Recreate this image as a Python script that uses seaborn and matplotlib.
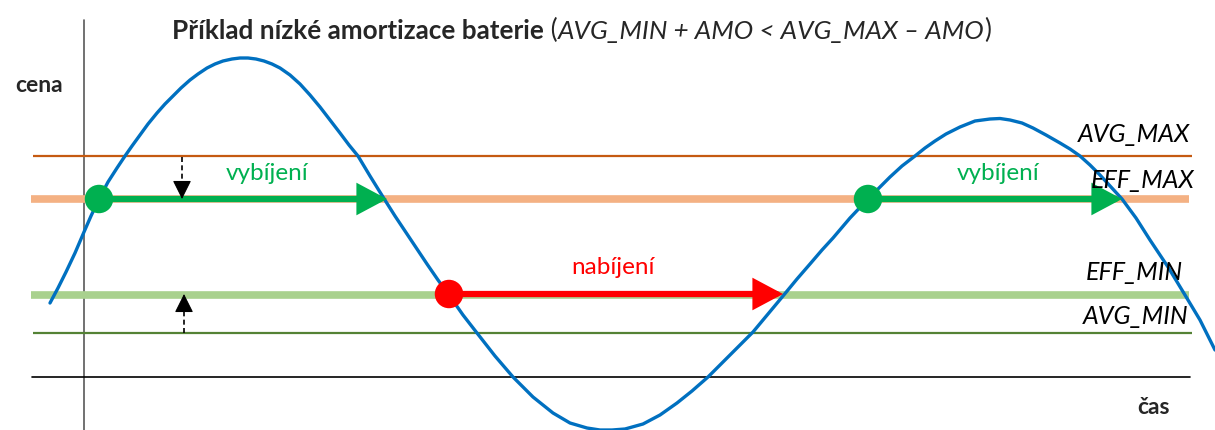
import matplotlib
matplotlib.use("Agg")
import matplotlib.pyplot as plt
import seaborn as sns

# price curve (time, price in picture units, y grows downward)
curve_t = [50, 58, 66, 75, 84, 91, 99, 108, 117, 125, 132, 140, 148, 157, 165,
           173, 181, 190, 198, 207, 215, 223, 232, 240, 248, 256, 264, 272,
           280, 290, 300, 310, 320, 330, 340, 349, 358, 370, 383, 395, 407,
           417, 427, 438, 449, 463, 477, 495, 513, 533, 553, 570, 587, 600,
           612, 625, 643, 660, 677, 692, 708, 730, 753, 768, 783, 797, 810,
           822, 833, 850, 868, 880, 890, 902, 915, 925, 935, 946, 960, 975,
           990, 1000, 1010, 1022, 1033, 1046, 1060, 1070, 1080, 1090, 1100,
           1111, 1122, 1136, 1150, 1168, 1185, 1200, 1215]
curve_p = [303, 288, 272, 253, 232, 216, 199, 182, 168, 156, 146, 135, 124, 113,
           104, 96, 88, 80, 74, 68, 64, 61, 59, 58, 58, 59, 61, 64,
           68, 75, 84, 95, 107, 120, 133, 145, 156, 176, 197, 216, 234,
           249, 264, 280, 295, 315, 333, 356, 377, 397, 413, 423, 428, 430,
           430, 429, 424, 415, 403, 391, 377, 355, 332, 314, 296, 279, 264,
           250, 238, 218, 199, 187, 177, 166, 156, 148, 141, 134, 127, 121,
           119, 118.5, 120, 123, 128, 135, 143, 149, 156, 165, 175,
           187, 199, 218, 240, 267, 295, 320, 350]

# price levels
level_names = ["AVG_MAX", "EFF_MAX", "EFF_MIN", "AVG_MIN"]
level_values = [156, 199, 295, 333]

# charge / discharge intervals
phase_labels = ["vybíjení", "nabíjení", "vybíjení"]
phase_start = [99, 449, 868]
phase_end = [387, 783, 1122]
phase_level = [199, 294, 199]

sns.set_theme(style="white")
plt.rcParams["font.family"] = ["Lato", "DejaVu Sans"]

fig = plt.figure(figsize=(12.15, 4.3), dpi=100)
ax = fig.add_axes([0, 0, 1, 1])
ax.set_xlim(0, 1215)
ax.set_ylim(430, 0)
ax.axis("off")

# axes of the sketch
ax.plot([84, 84], [20, 430], color="#595959", lw=1.2, zorder=1)
ax.plot([32, 1190], [377, 377], color="black", lw=1.2, zorder=1)

# level lines
level_style = {
    "AVG_MAX": dict(color="#C55A11", lw=1.6, x=(33, 1192)),
    "EFF_MAX": dict(color="#F4B183", lw=5.5, x=(31, 1189)),
    "EFF_MIN": dict(color="#A9D18E", lw=5.5, x=(31, 1189)),
    "AVG_MIN": dict(color="#548235", lw=1.6, x=(33, 1192)),
}
label_pos = {"AVG_MAX": (1190, 134), "EFF_MAX": (1195, 180),
             "EFF_MIN": (1183, 272), "AVG_MIN": (1188, 316)}
for name, val in zip(level_names, level_values):
    st = level_style[name]
    ax.plot(st["x"], [val, val], color=st["color"], lw=st["lw"],
            solid_capstyle="butt", zorder=2)
    lx, ly = label_pos[name]
    ax.text(lx, ly, name, ha="right", va="center", fontsize=18,
            style="italic", color="black", zorder=6)

# price curve
sns.lineplot(x=curve_t, y=curve_p, sort=False, estimator=None, ax=ax,
             color="#0070C0", lw=2.4, zorder=3)
ax.lines[-1].set_solid_joinstyle("round")

# arrows for charging / discharging
phase_colors = ["#00B050", "#FF0000", "#00B050"]
text_x = [267, 613, 998]
for lab, x0, x1, y, c, tx in zip(phase_labels, phase_start, phase_end,
                                 phase_level, phase_colors, text_x):
    ax.annotate("", xy=(x1, y), xytext=(x0, y),
                arrowprops=dict(arrowstyle="-|>,head_length=0.75,head_width=0.4",
                                mutation_scale=20, lw=4.5, color=c,
                                shrinkA=0, shrinkB=0, joinstyle="miter"),
                zorder=4)
    sns.scatterplot(x=[x0], y=[y], ax=ax, color=c, s=420, edgecolor="none",
                    zorder=5, legend=False)
    ax.text(tx, y - 26, lab, ha="center", va="center", fontsize=17.5, color=c)

# dashed arrows showing the amortization shift
for x, y0, y1 in [(182, 157, 199), (184, 333, 294)]:
    ax.plot([x, x], [y0, y1 + (-10 if y1 > y0 else 10)], color="black",
            lw=1.2, ls=(0, (3, 2)), zorder=4)
    ax.annotate("", xy=(x, y1), xytext=(x, y1 + (-13 if y1 > y0 else 13)),
                arrowprops=dict(arrowstyle="-|>,head_length=0.9,head_width=0.45",
                                mutation_scale=13, lw=0.8, color="black",
                                shrinkA=0, shrinkB=0), zorder=4)

# axis labels
ax.text(39, 86, "cena", ha="center", va="center", fontsize=16.5, fontweight="bold")
ax.text(1154, 408, "čas", ha="center", va="center", fontsize=16.5, fontweight="bold")

# title
t1 = ax.text(172, 31, "Příklad nízké amortizace baterie", ha="left", va="center",
             fontsize=18.8, fontweight="bold")
t2 = ax.annotate(" (", xy=(1, 0), xycoords=t1, ha="left", va="bottom", fontsize=18.8)
t3 = ax.annotate("AVG_MIN + AMO < AVG_MAX – AMO", xy=(1, 0), xycoords=t2,
                 ha="left", va="bottom", fontsize=18.8, style="italic")
t4 = ax.annotate(")", xy=(1, 0), xycoords=t3, ha="left", va="bottom", fontsize=18.8)

fig.savefig("out.png", dpi=100)
